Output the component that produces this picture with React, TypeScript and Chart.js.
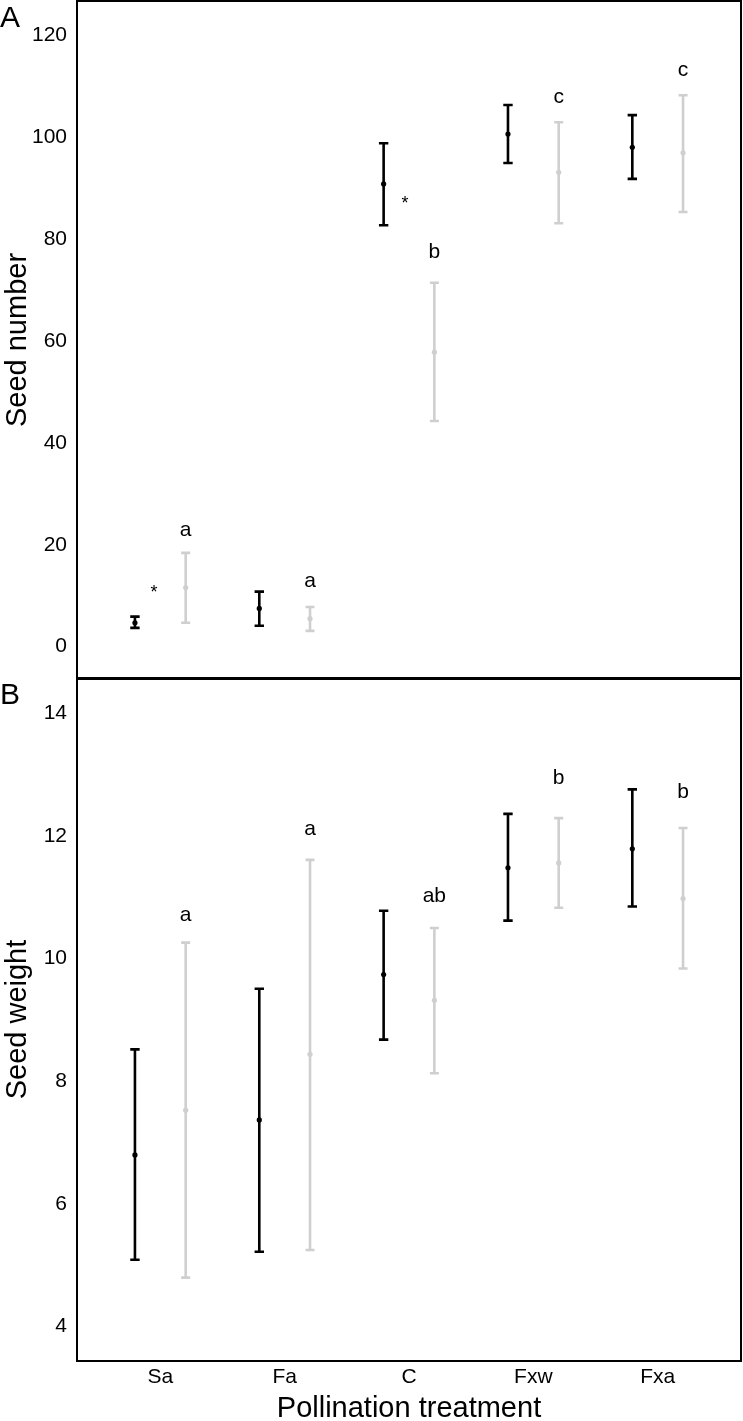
import React, { useEffect, useRef } from 'react';
import { Chart, registerables } from 'chart.js';

Chart.register(...registerables);

// ---------- data ----------
const categories = ['Sa', 'Fa', 'C', 'Fxw', 'Fxa'];
const panelLabels = ['A', 'B'];
const seriesOffset = 0.204;

// Panel A: seed number
const seedNumTicks = [0, 20, 40, 60, 80, 100, 120];
const seedNumBlackMean = [4.7, 7.5, 90.8, 100.6, 98.0];
const seedNumBlackLow = [3.7, 4.1, 82.7, 94.9, 91.8];
const seedNumBlackHigh = [5.9, 10.8, 98.8, 106.3, 104.3];
const seedNumGrayMean = [11.6, 5.5, 57.8, 93.1, 96.9];
const seedNumGrayLow = [4.7, 3.1, 44.3, 83.1, 85.3];
const seedNumGrayHigh = [18.4, 7.8, 71.4, 102.9, 108.2];
const seedNumLetters = ['a', 'a', 'b', 'c', 'c'];
const seedNumLetterY = [21.8, 11.8, 76.3, 106.6, 111.9];
const seedNumStarX = [0.949, 2.968];
const seedNumStarY = [9.5, 85.8];

// Panel B: seed weight
const seedWtTicks = [4, 6, 8, 10, 12, 14];
const seedWtBlackMean = [6.8, 7.37, 9.74, 11.48, 11.79];
const seedWtBlackLow = [5.09, 5.22, 8.68, 10.62, 10.85];
const seedWtBlackHigh = [8.52, 9.51, 10.78, 12.36, 12.76];
const seedWtGrayMean = [7.53, 8.44, 9.32, 11.56, 10.98];
const seedWtGrayLow = [4.8, 5.25, 8.13, 10.83, 9.84];
const seedWtGrayHigh = [10.26, 11.61, 10.5, 12.29, 12.13];
const seedWtLetters = ['a', 'a', 'ab', 'b', 'b'];
const seedWtLetterY = [10.62, 12.01, 10.92, 12.85, 12.62];

// ---------- styling ----------
const FONT = "'Liberation Sans', Arial, Helvetica, sans-serif";
const BLACK = '#000000';
const GRAY = '#cfcfcf';

const errorBarPlugin = {
  id: 'errorBars',
  beforeDatasetsDraw(chart: any) {
    const { ctx, scales } = chart;
    const x = scales.x;
    const y = scales.y;
    chart.data.datasets.forEach((ds: any) => {
      ds.data.forEach((pt: any, i: number) => {
        const px = x.getPixelForValue(pt.x);
        const pl = y.getPixelForValue(ds.low[i]);
        const ph = y.getPixelForValue(ds.high[i]);
        const cap = ds.capHalf;
        ctx.save();
        ctx.strokeStyle = ds.barColor;
        ctx.lineWidth = ds.barWidth;
        ctx.lineCap = 'butt';
        ctx.beginPath();
        ctx.moveTo(px, pl);
        ctx.lineTo(px, ph);
        ctx.moveTo(px - cap, pl);
        ctx.lineTo(px + cap, pl);
        ctx.moveTo(px - cap, ph);
        ctx.lineTo(px + cap, ph);
        ctx.stroke();
        ctx.restore();
      });
    });
  },
  afterDraw(chart: any, _args: any, opts: any) {
    const { ctx, chartArea, scales } = chart;
    const x = scales.x;
    const y = scales.y;
    ctx.save();
    // frame
    ctx.strokeStyle = '#000';
    ctx.lineWidth = 2;
    ctx.strokeRect(chartArea.left, chartArea.top, chartArea.right - chartArea.left, chartArea.bottom - chartArea.top);
    // letters
    ctx.fillStyle = '#000';
    ctx.textAlign = 'center';
    ctx.textBaseline = 'alphabetic';
    ctx.font = `21px ${FONT}`;
    (opts.letters || []).forEach((t: string, i: number) => {
      ctx.fillText(t, x.getPixelForValue(i + 1 + seriesOffset), y.getPixelForValue(opts.letterY[i]));
    });
    ctx.font = `18px ${FONT}`;
    (opts.starX || []).forEach((sx: number, i: number) => {
      ctx.fillText('*', x.getPixelForValue(sx), y.getPixelForValue(opts.starY[i]));
    });
    // panel label
    ctx.textAlign = 'left';
    ctx.font = `30px ${FONT}`;
    ctx.fillText(opts.panel, 0, 27);
    ctx.restore();
  },
};

function makeDatasets(bm: number[], bl: number[], bh: number[], gm: number[], gl: number[], gh: number[]) {
  return [
    {
      label: 'black',
      data: bm.map((v, i) => ({ x: i + 1 - seriesOffset, y: v })),
      low: bl,
      high: bh,
      barColor: BLACK,
      barWidth: 2.6,
      capHalf: 4.7,
      pointRadius: 2.6,
      pointBackgroundColor: BLACK,
      pointBorderWidth: 0,
      showLine: false,
    },
    {
      label: 'gray',
      data: gm.map((v, i) => ({ x: i + 1 + seriesOffset, y: v })),
      low: gl,
      high: gh,
      barColor: GRAY,
      barWidth: 2.6,
      capHalf: 4.5,
      pointRadius: 2.6,
      pointBackgroundColor: GRAY,
      pointBorderWidth: 0,
      showLine: false,
    },
  ];
}

function makeConfig(panel: 'A' | 'B'): any {
  const isA = panel === 'A';
  const datasets = isA
    ? makeDatasets(seedNumBlackMean, seedNumBlackLow, seedNumBlackHigh, seedNumGrayMean, seedNumGrayLow, seedNumGrayHigh)
    : makeDatasets(seedWtBlackMean, seedWtBlackLow, seedWtBlackHigh, seedWtGrayMean, seedWtGrayLow, seedWtGrayHigh);
  const yTicks = isA ? seedNumTicks : seedWtTicks;
  return {
    type: 'scatter',
    data: { datasets },
    plugins: [errorBarPlugin],
    options: {
      animation: false,
      responsive: false,
      devicePixelRatio: 1,
      layout: { autoPadding: false, padding: { top: 1, right: 2, bottom: isA ? 1 : 0, left: 0 } },
      plugins: {
        legend: { display: false },
        tooltip: { enabled: false },
        errorBars: isA
          ? { letters: seedNumLetters, letterY: seedNumLetterY, starX: seedNumStarX, starY: seedNumStarY, panel: panelLabels[0] }
          : { letters: seedWtLetters, letterY: seedWtLetterY, starX: [], starY: [], panel: panelLabels[1] },
      },
      scales: {
        x: {
          type: 'linear',
          display: !isA,
          min: 0.33,
          max: 5.67,
          grid: { display: false, drawTicks: false },
          border: { display: false },
          afterBuildTicks: (s: any) => {
            s.ticks = categories.map((_, i) => ({ value: i + 1 }));
          },
          afterFit: (s: any) => {
            if (!isA) s.height = 60;
            s.paddingLeft = 0;
            s.paddingRight = 0;
          },
          ticks: {
            padding: 4,
            color: '#000',
            font: { family: FONT, size: 21 },
            maxRotation: 0,
            autoSkip: false,
            callback: (v: any) => categories[Math.round(v) - 1] ?? '',
          },
          title: {
            display: true,
            text: 'Pollination treatment',
            color: '#000',
            font: { family: FONT, size: 29, lineHeight: 0.8 },
            padding: 0,
          },
        },
        y: {
          type: 'linear',
          min: isA ? -6.34 : 3.44,
          max: isA ? 126.7 : 14.575,
          grid: { display: false, drawTicks: false },
          border: { display: false },
          afterBuildTicks: (s: any) => {
            s.ticks = yTicks.map((v) => ({ value: v }));
          },
          afterFit: (s: any) => {
            s.width = 77;
            s.paddingTop = 0;
            s.paddingBottom = 0;
          },
          ticks: {
            padding: 10,
            color: '#000',
            font: { family: FONT, size: 21 },
          },
          title: {
            display: true,
            text: isA ? 'Seed number' : 'Seed weight',
            color: '#000',
            font: { family: FONT, size: 29 },
            padding: { top: 1, bottom: 0 },
          },
        },
      },
    },
  };
}

function Panel({ panel, top, height }: { panel: 'A' | 'B'; top: number; height: number }) {
  const ref = useRef<HTMLCanvasElement | null>(null);
  useEffect(() => {
    if (!ref.current) return;
    const chart = new Chart(ref.current, makeConfig(panel));
    return () => chart.destroy();
  }, [panel]);
  return (
    <div style={{ position: 'absolute', left: 0, top, width: 743, height }}>
      <canvas ref={ref} width={743} height={height} style={{ display: 'block', width: 743, height }} />
    </div>
  );
}

export default function App() {
  return (
    <div style={{ position: 'absolute', left: 0, top: 0, width: 743, height: 1421, overflow: 'hidden', background: '#fff' }}>
      <Panel panel="A" top={0} height={680} />
      <Panel panel="B" top={677} height={744} />
    </div>
  );
}
